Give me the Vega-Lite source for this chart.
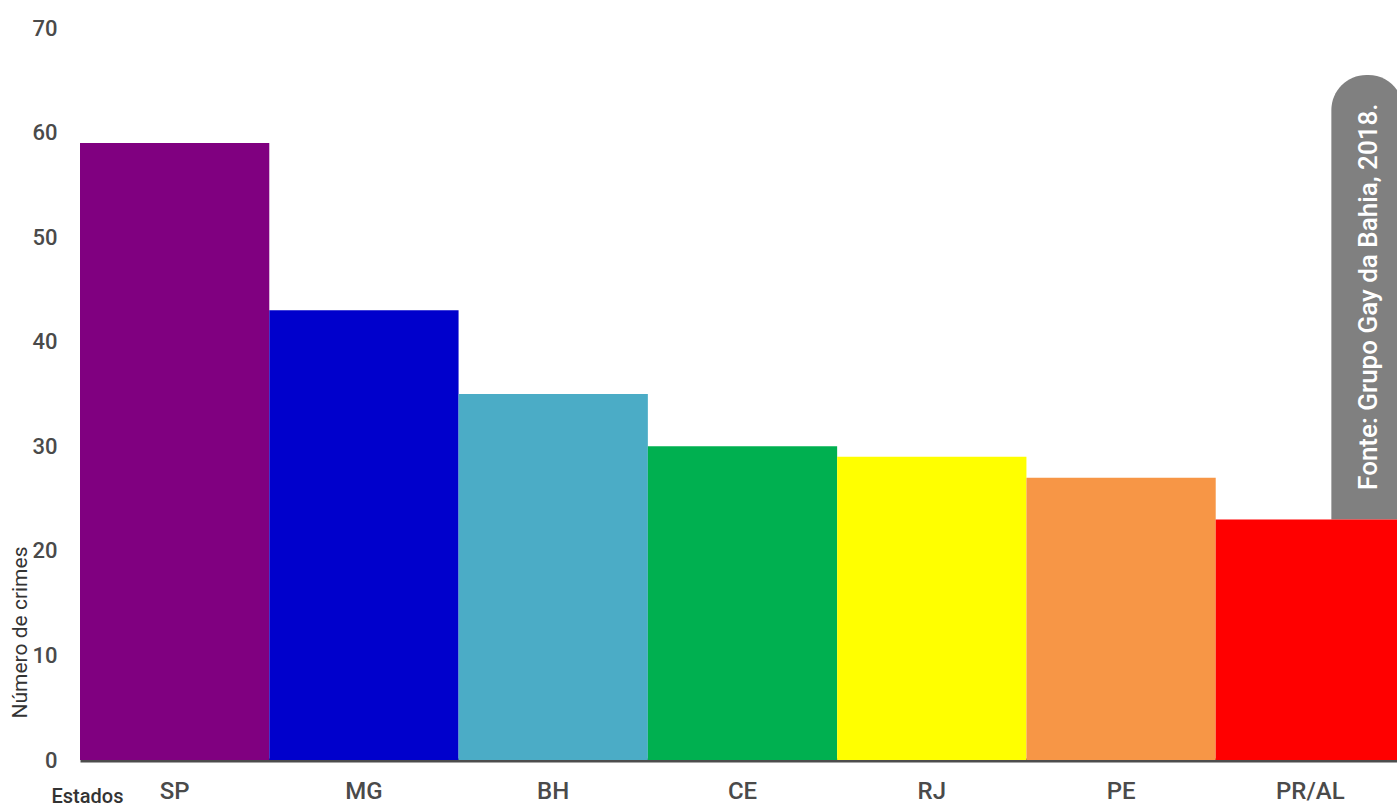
{
  "$schema": "https://vega.github.io/schema/vega-lite/v6.json",
  "width": 1325,
  "height": 732,
  "autosize": "none",
  "padding": {"left": 80, "top": 28, "right": 0, "bottom": 45},
  "background": "white",
  "config": {"view": {"stroke": null}, "font": "Roboto"},
  "datasets": {
    "crimes": [
      {"estado": "SP", "crimes": 59},
      {"estado": "MG", "crimes": 43},
      {"estado": "BH", "crimes": 35},
      {"estado": "CE", "crimes": 30},
      {"estado": "RJ", "crimes": 29},
      {"estado": "PE", "crimes": 27},
      {"estado": "PR/AL", "crimes": 23}
    ],
    "fonte": [
      {"estado": "PR/AL", "y0": 23, "y1": 65.5, "ymid": 44.3, "texto": "Fonte: Grupo Gay da Bahia, 2018."}
    ]
  },
  "layer": [
    {
      "data": {"name": "fonte"},
      "mark": {"type": "bar", "color": "#808080", "width": 72, "xOffset": 57, "cornerRadiusTopLeft": 35, "cornerRadiusTopRight": 35},
      "encoding": {
        "x": {"field": "estado", "type": "nominal", "sort": null, "scale": {"domain": ["SP", "MG", "BH", "CE", "RJ", "PE", "PR/AL"], "paddingInner": 0, "paddingOuter": 0}},
        "y": {"field": "y0", "type": "quantitative"},
        "y2": {"field": "y1"}
      }
    },
    {
      "data": {"name": "fonte"},
      "mark": {"type": "text", "angle": -90, "align": "center", "baseline": "middle", "dy": 59, "color": "white", "fontSize": 26, "fontWeight": 500, "font": "Roboto", "letterSpacing": 2},
      "encoding": {
        "x": {"field": "estado", "type": "nominal", "sort": null},
        "y": {"field": "ymid", "type": "quantitative"},
        "text": {"field": "texto"}
      }
    },
    {
      "data": {"name": "crimes"},
      "mark": {"type": "bar"},
      "encoding": {
        "x": {
          "field": "estado", "type": "nominal", "sort": null,
          "axis": {
            "title": "Estados", "titleX": 7, "titleY": 36, "titleAlign": "center", "titleBaseline": "middle",
            "titleFontSize": 20, "titleFontWeight": 500, "titleColor": "#333333", "titleFont": "Roboto",
            "labelAngle": 0, "labelAlign": "center", "labelBaseline": "middle", "labelFontSize": 24, "labelFontWeight": 500, "labelColor": "#4a4a4a", "labelPadding": 31,
            "ticks": false, "domainColor": "#4d4d4d", "domainWidth": 4
          }
        },
        "y": {
          "field": "crimes", "type": "quantitative",
          "scale": {"domain": [0, 70], "nice": false},
          "axis": {
            "title": "Número de crimes", "titleX": -60, "titleY": 604, "titleAlign": "center", "titleBaseline": "middle",
            "titleFontSize": 21, "titleFontWeight": "normal", "titleColor": "#333333",
            "values": [0, 10, 20, 30, 40, 50, 60, 70],
            "labelFontSize": 22, "labelFontWeight": 500, "labelColor": "#4a4a4a", "labelPadding": 23,
            "ticks": false, "domain": false, "grid": false
          }
        },
        "color": {
          "field": "estado", "type": "nominal", "legend": null,
          "scale": {"domain": ["SP", "MG", "BH", "CE", "RJ", "PE", "PR/AL"], "range": ["#800080", "#0000CC", "#4BACC6", "#00B050", "#FFFF00", "#F79646", "#FF0000"]}
        }
      }
    }
  ]
}
